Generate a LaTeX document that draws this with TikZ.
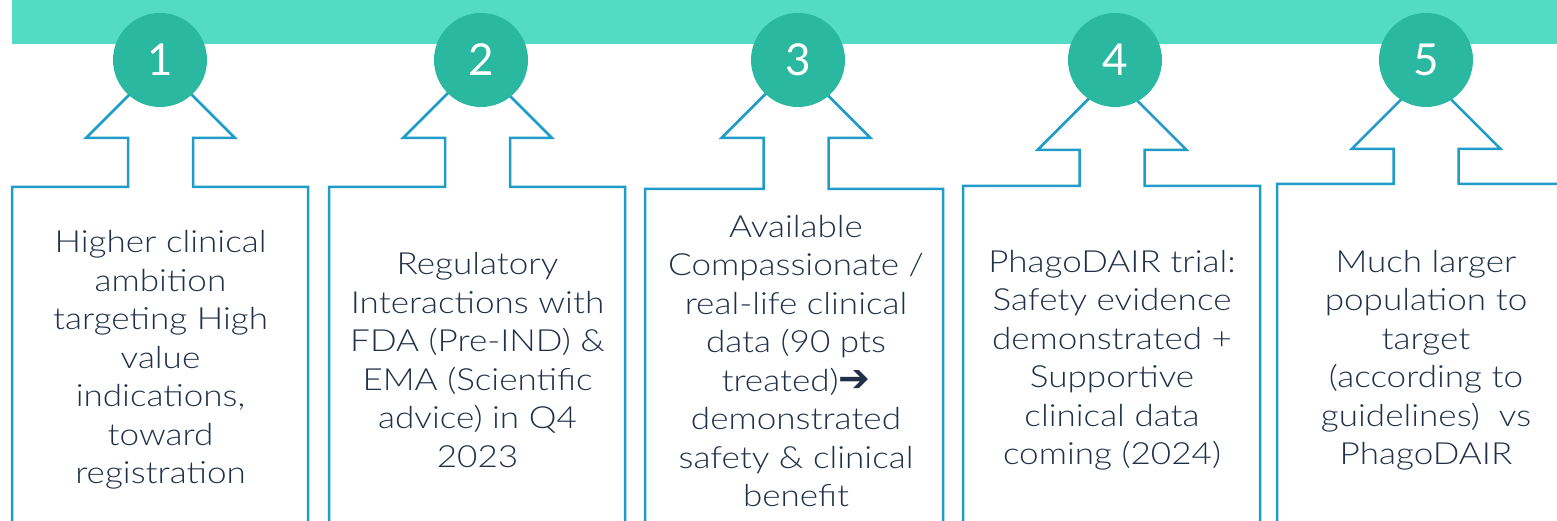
\documentclass[tikz,border=0pt]{standalone}
\usepackage{fontspec}
\setmainfont{Lato}[UprightFont=* Light, FakeStretch=1.15]
\newfontfamily\digitfont{Lato}
\newfontfamily\arrowfont{DejaVu Sans}
\usetikzlibrary{positioning}
\definecolor{barteal}{HTML}{53DBC5}
\definecolor{discteal}{HTML}{2AB8A0}
\definecolor{edgeblue}{HTML}{1F9CC9}
\definecolor{ink}{HTML}{1F3048}

\begin{document}
\begin{tikzpicture}[
    x=1pt, y=-1pt,
    num/.style={circle, fill=discteal, minimum size=94pt, inner sep=0pt,
        text=white, font=\digitfont\fontsize{44}{44}\selectfont},
    body/.style={align=center, text=ink, font=\fontsize{30.5}{38.5}\selectfont},
    outline/.style={draw=edgeblue, line width=2.5pt}
    ]
    \path[use as bounding box, clip] (0,0) rectangle (1557,521);
    \fill[barteal] (12,0) rectangle (1600,44);

    % up-arrow callouts, then the numbered discs on top
    \foreach \n/\cx/\dx/\base/\top/\l/\r in {1/160.5/160/138/187/12/308,
        2/477.5/481/138/187/329/625, 3/796/798/138/189/645/943,
        4/1112/1115/150/186/963/1260, 5/1426/1426/149/184/1277/1600}
    {
        \draw[outline] (\l,540) -- (\l,\top) -- (\cx-32.5,\top) -- (\cx-32.5,\base)
            -- (\cx-74.5,\base) -- (\cx,\base-74.5) -- (\cx+74.5,\base)
            -- (\cx+32.5,\base) -- (\cx+32.5,\top) -- (\r,\top) -- (\r,540);
        \node[num] (c\n) at (\dx,60) {\n};
    }

    \node[body] (t1) at (160.5,360) {Higher clinical\\ambition\\targeting High\\value\\indications,\\toward\\registration};
    \node[body] (t2) at (477.5,360) {Regulatory\\Interactions with\\FDA (Pre-IND) \&\\EMA (Scientific\\advice) in Q4\\2023};
    \node[body] (t3) at (796,361) {Available\\Compassionate /\\real-life clinical\\data (90 pts\\treated){\arrowfont\bfseries\fontsize{38}{38}\selectfont ➔}\\demonstrated\\safety \& clinical\\benefit};
    \node[body] (t4) at (1112,360) {PhagoDAIR trial:\\Safety evidence\\demonstrated +\\Supportive\\clinical data\\coming (2024)};
    \node[body] (t5) at (1426,360) {Much larger\\population to\\target\\(according to\\guidelines)~ vs\\PhagoDAIR};
\end{tikzpicture}
\end{document}
